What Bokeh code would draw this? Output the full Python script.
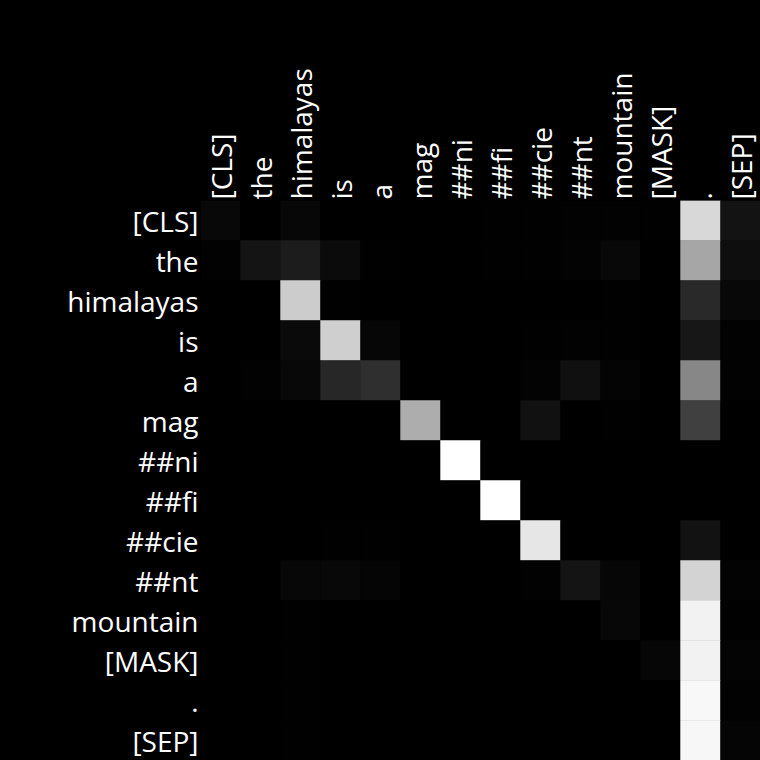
from bokeh.plotting import figure
from bokeh.models import FactorRange, LinearColorMapper, ColumnDataSource
from bokeh.palettes import Greys256
from bokeh.embed import file_html
from bokeh.resources import INLINE

tokens = ["[CLS]", "the", "himalayas", "is", "a", "mag", "##ni", "##fi",
          "##cie", "##nt", "mountain", "[MASK]", ".", "[SEP]"]

# attention weights (row = query token, column = key token), read as 0..255 grey
attn_rows = [
    [8, 0, 7, 0, 0, 0, 0, 1, 1, 2, 2, 1, 216, 19],
    [2, 20, 28, 11, 1, 0, 0, 1, 1, 3, 8, 0, 166, 14],
    [0, 0, 204, 1, 0, 0, 0, 0, 0, 0, 1, 0, 41, 8],
    [0, 0, 10, 207, 6, 0, 0, 0, 1, 2, 1, 0, 23, 2],
    [0, 2, 8, 39, 47, 0, 0, 0, 3, 16, 4, 0, 135, 2],
    [0, 0, 0, 0, 0, 173, 0, 0, 17, 0, 1, 0, 64, 0],
    [0, 0, 0, 0, 0, 0, 255, 0, 0, 0, 0, 0, 0, 0],
    [0, 0, 0, 0, 0, 0, 0, 255, 0, 0, 0, 0, 0, 0],
    [0, 0, 0, 1, 1, 0, 0, 0, 230, 0, 0, 0, 18, 0],
    [0, 0, 7, 8, 5, 0, 0, 0, 2, 20, 6, 0, 211, 3],
    [0, 0, 1, 0, 0, 0, 0, 0, 0, 0, 7, 0, 242, 1],
    [0, 0, 1, 0, 0, 0, 0, 0, 0, 0, 0, 6, 242, 4],
    [0, 0, 1, 0, 0, 0, 0, 0, 0, 0, 0, 0, 248, 2],
    [0, 0, 1, 0, 0, 0, 0, 0, 0, 0, 0, 0, 247, 5],
]

xs, ys, vals = [], [], []
for i, row in enumerate(attn_rows):
    for j, v in enumerate(row):
        xs.append(tokens[j])
        ys.append(tokens[i])
        vals.append(v / 255.0)

src = ColumnDataSource(dict(x=xs, y=ys, v=vals))

p = figure(width=760, height=760, output_backend="svg", toolbar_location=None,
           x_range=FactorRange(factors=tokens, range_padding=0),
           y_range=FactorRange(factors=list(reversed(tokens)), range_padding=0),
           x_axis_location="above",
           min_border_left=200, min_border_top=200, min_border_right=0, min_border_bottom=0)

mapper = LinearColorMapper(palette=Greys256, low=0, high=1)
p.rect(x="x", y="y", width=1.01, height=1.01, source=src,
       fill_color={"field": "v", "transform": mapper}, line_color=None)

p.background_fill_color = "black"
p.border_fill_color = "black"
p.outline_line_color = None
p.grid.grid_line_color = None
p.styles = {"background-color": "#000000"}

for ax in (p.xaxis, p.yaxis):
    ax.axis_line_color = None
    ax.major_tick_line_color = None
    ax.minor_tick_line_color = None
    ax.major_tick_out = 0
    ax.major_tick_in = 0
    ax.major_label_text_color = "white"
    ax.major_label_text_font = "Open Sans"
    ax.major_label_text_font_size = "28px"
    ax.group_text_font_size = "0px"

p.yaxis.major_label_standoff = 2
p.xaxis.major_label_standoff = 1
p.xaxis.major_label_orientation = "vertical"

html = file_html(p, INLINE)
html = html.replace("<body>", '<body style="margin:0;background:#000000;">', 1)
html = html.replace("</head>", "<style>html,body{margin:0;background:#000000;}</style></head>", 1)
open("out.html", "w").write(html)
